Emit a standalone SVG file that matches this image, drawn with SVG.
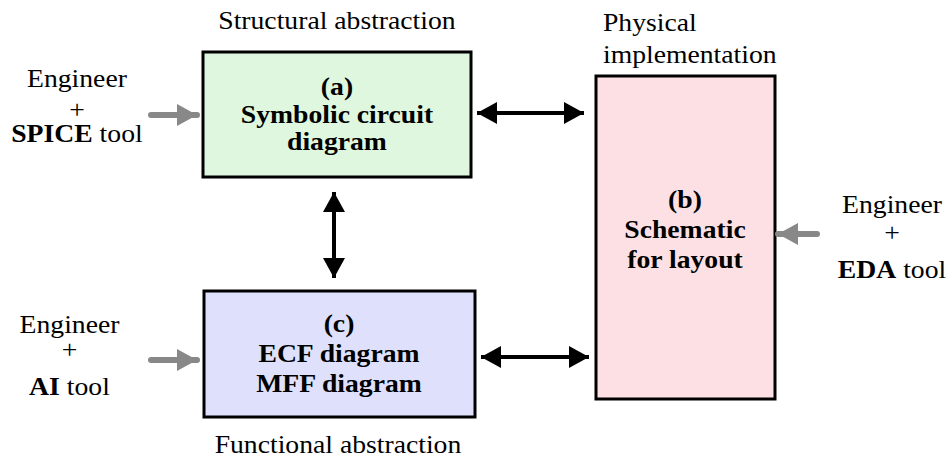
<svg xmlns="http://www.w3.org/2000/svg" width="949" height="461" viewBox="0 0 949 461">
<defs>
<style>
.box{stroke:#000;stroke-width:3}
.t{font-family:'Liberation Serif','DejaVu Serif',serif;font-size:24.5px;fill:#000;text-anchor:middle}
.b{font-weight:bold}
.l{text-anchor:start}
.conn{stroke:#000;stroke-width:4;fill:none}
.gray{stroke:#888;stroke-width:6;fill:none;stroke-linecap:round}
</style>
<marker id="ah" markerUnits="userSpaceOnUse" markerWidth="20" markerHeight="22" refX="20" refY="11" orient="auto-start-reverse" viewBox="0 0 20 22">
<path d="M0,0 L20,11 L0,22 z" fill="#000"/>
</marker>
<marker id="gh" markerUnits="userSpaceOnUse" markerWidth="20" markerHeight="22" refX="20" refY="11" orient="auto" viewBox="0 0 20 22">
<path d="M0,0 L20,11 L0,22 z" fill="#888"/>
</marker>
</defs>
<rect width="949" height="461" fill="#fff"/>

<g id="labels" font-family="Liberation Serif, serif">
<g transform="scale(1.13,1)">
<text class="t" x="298.2" y="29">Structural abstraction</text>
<text class="t l" x="533.6" y="31">Physical</text>
<text class="t l" x="533.6" y="63">implementation</text>
<text class="t" x="299.1" y="453">Functional abstraction</text>
</g>
</g>

<g id="actor-spice">
<g transform="scale(1.13,1)">
<text class="t" x="68.1" y="87">Engineer</text>
<text class="t" x="68.1" y="118">+</text>
<text class="t" x="68.1" y="142"><tspan class="b">SPICE</tspan> tool</text>
</g>
</g>

<g id="actor-ai">
<g transform="scale(1.13,1)">
<text class="t" x="61.5" y="333">Engineer</text>
<text class="t" x="61.5" y="358">+</text>
<text class="t" x="61.5" y="395"><tspan class="b">AI</tspan> tool</text>
</g>
</g>

<g id="actor-eda">
<g transform="scale(1.13,1)">
<text class="t" x="789.4" y="213">Engineer</text>
<text class="t" x="789.4" y="241">+</text>
<text class="t" x="789.4" y="278"><tspan class="b">EDA</tspan> tool</text>
</g>
</g>

<g id="node-a">
<rect class="box" x="203" y="52" width="268" height="125" fill="#dff7df"/>
<g transform="scale(1.13,1)">
<text class="t b" x="298.2" y="95">(a)</text>
<text class="t b" x="298.2" y="123">Symbolic circuit</text>
<text class="t b" x="298.2" y="150">diagram</text>
</g>
</g>

<g id="node-b">
<rect class="box" x="596" y="76" width="179" height="323" fill="#fde0e3"/>
<g transform="scale(1.13,1)">
<text class="t b" x="606.2" y="208">(b)</text>
<text class="t b" x="606.2" y="238">Schematic</text>
<text class="t b" x="606.2" y="268">for layout</text>
</g>
</g>

<g id="node-c">
<rect class="box" x="204" y="291" width="271" height="126" fill="#dfe0fb"/>
<g transform="scale(1.13,1)">
<text class="t b" x="300" y="332">(c)</text>
<text class="t b" x="300" y="362">ECF diagram</text>
<text class="t b" x="300" y="392">MFF diagram</text>
</g>
</g>

<g id="connectors">
<line class="conn" x1="477" y1="113" x2="584" y2="113" marker-start="url(#ah)" marker-end="url(#ah)"/>
<line class="conn" x1="481" y1="357" x2="589" y2="357" marker-start="url(#ah)" marker-end="url(#ah)"/>
<line class="conn" x1="334" y1="192" x2="334" y2="278" marker-start="url(#ah)" marker-end="url(#ah)"/>
<line class="gray" x1="151" y1="115" x2="197" y2="115" marker-end="url(#gh)"/>
<line class="gray" x1="151" y1="360" x2="197" y2="360" marker-end="url(#gh)"/>
<line class="gray" x1="817" y1="234" x2="778" y2="234" marker-end="url(#gh)"/>
</g>
</svg>
